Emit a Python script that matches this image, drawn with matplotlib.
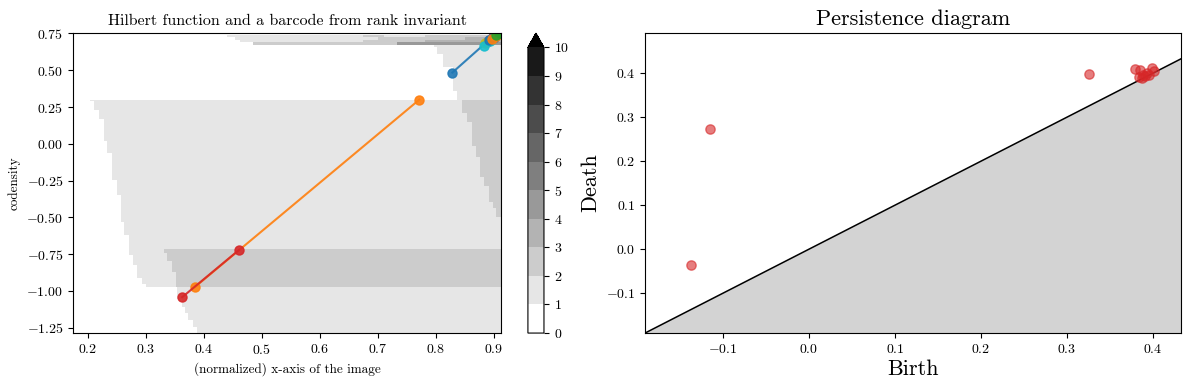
import numpy as np
import matplotlib
matplotlib.use("Agg")
import matplotlib.pyplot as plt
from matplotlib.colors import ListedColormap, BoundaryNorm

# --- fonts: Computer Modern look (cmr10 ships with matplotlib) ---
plt.rcParams['font.family'] = 'serif'
plt.rcParams['font.serif'] = ['cmr10', 'DejaVu Serif']
plt.rcParams['mathtext.fontset'] = 'cm'
plt.rcParams['axes.formatter.use_mathtext'] = True

# --- Hilbert function: staircase regions (step tops, left x of each step, bottom) ---
X_LIM = (0.1746, 0.913)
Y_LIM = (-1.286, 0.757)

main_tops = [0.30, 0.29, 0.23, 0.165, 0.02, -0.06, -0.245, -0.35, -0.53, -0.62, -0.755, -0.825, -0.91, -0.955]
main_x = [0.204, 0.211, 0.219, 0.227, 0.233, 0.240, 0.249, 0.256, 0.262, 0.271, 0.277, 0.284, 0.292, 0.300]
main_bottom = -0.975

low_tops = [-0.975, -1.06, -1.11, -1.15, -1.20, -1.25]
low_x = [0.353, 0.362, 0.368, 0.373, 0.381, 0.388]
low_bottom = -1.29

band_tops = [-0.718, -0.742, -0.80, -0.87]
band_x = [0.330, 0.337, 0.345, 0.352]
band_bottom = -0.975

right_tops = [0.30, 0.21, 0.144, -0.013, -0.088, -0.224, -0.29, -0.40, -0.44]
right_x = [0.845, 0.853, 0.862, 0.869, 0.876, 0.883, 0.891, 0.897, 0.903]
right_bottom = -0.50

upper_tops = [0.675, 0.66, 0.61, 0.52, 0.36]
upper_x = [0.796, 0.802, 0.813, 0.828, 0.836]
upper_bottom = 0.30

# top band rows: row edges and (x start, value) pieces per row
top_edges = [0.675, 0.692, 0.708, 0.725, 0.742]
top_rows = [
    [(0.485, 2), (0.733, 4)],
    [(0.463, 1), (0.675, 2), (0.78, 3)],
    [(0.454, 1), (0.70, 2), (0.85, 3)],
    [(0.44, 1), (0.675, 2), (0.71, 1), (0.78, 2)],
]

# --- barcode (birth point -> death point), colours follow the default cycle ---
bar_x0 = [0.829, 0.385, 0.900, 0.363, 0.888, 0.890, 0.892, 0.893, 0.886, 0.884, 0.893, 0.897, 0.904]
bar_y0 = [0.484, -0.973, 0.728, -1.042, 0.690, 0.700, 0.703, 0.706, 0.686, 0.668, 0.705, 0.710, 0.737]
bar_x1 = [0.897, 0.772, 0.906, 0.461, 0.896, 0.898, 0.899, 0.900, 0.895, 0.894, 0.900, 0.905, 0.911]
bar_y1 = [0.722, 0.300, 0.745, -0.721, 0.712, 0.716, 0.720, 0.722, 0.708, 0.700, 0.724, 0.730, 0.752]

# --- persistence diagram points ---
births = [-0.137, -0.115, 0.326, 0.379, 0.385, 0.399, 0.388, 0.393, 0.387, 0.384, 0.391, 0.396, 0.401]
deaths = [-0.036, 0.274, 0.398, 0.409, 0.407, 0.411, 0.396, 0.400, 0.389, 0.392, 0.393, 0.397, 0.405]


def stair(xc, yc, tops, xs, bottom):
    m = np.zeros_like(xc, dtype=bool)
    for i, (t, x0) in enumerate(zip(tops, xs)):
        b = tops[i + 1] if i + 1 < len(tops) else bottom
        m |= (yc <= t) & (yc > b) & (xc >= x0)
    return m


xs = np.linspace(X_LIM[0], X_LIM[1], 600)
ys = np.linspace(Y_LIM[0], Y_LIM[1], 700)
XC, YC = np.meshgrid(xs, ys)
Z = np.zeros_like(XC)
Z += stair(XC, YC, main_tops, main_x, main_bottom)
Z += stair(XC, YC, low_tops, low_x, low_bottom)
Z += stair(XC, YC, band_tops, band_x, band_bottom)
Z += stair(XC, YC, right_tops, right_x, right_bottom)
Z += stair(XC, YC, upper_tops, upper_x, upper_bottom)
for i, pieces in enumerate(top_rows):
    inrow = (YC > top_edges[i]) & (YC <= top_edges[i + 1])
    for x0, v in pieces:
        Z[inrow & (XC >= x0)] = v

gray_r = plt.get_cmap('gray_r')
cmap = ListedColormap([gray_r(i / 10) for i in range(10)])
cmap.set_over('black')
norm = BoundaryNorm(np.arange(11), cmap.N, extend='neither')

fig = plt.figure(figsize=(11.89, 3.9), dpi=100)
ax1 = fig.add_axes([0.0614, 0.146, 0.360, 0.769])
cax = fig.add_axes([0.444, 0.146, 0.0135, 0.769])
ax2 = fig.add_axes([0.5425, 0.146, 0.4508, 0.769])

im = ax1.imshow(Z, extent=[X_LIM[0], X_LIM[1], Y_LIM[0], Y_LIM[1]], origin='lower',
                aspect='auto', cmap=cmap, norm=norm, interpolation='nearest')
for k in range(len(bar_x0)):
    ax1.plot([bar_x0[k], bar_x1[k]], [bar_y0[k], bar_y1[k]], 'o-', color=f'C{k % 10}',
             markersize=6.5, linewidth=1.5, alpha=0.9)
ax1.set_xlim(*X_LIM)
ax1.set_ylim(Y_LIM[0], 0.752)
ax1.set_xticks(np.arange(0.2, 0.95, 0.1))
ax1.set_yticks(np.arange(-1.25, 0.8, 0.25))
ax1.set_title("Hilbert function and a barcode from rank invariant", fontsize=11.5)
ax1.set_xlabel("(normalized) x-axis of the image", fontsize=9.5)
ax1.set_ylabel("codensity", fontsize=9.5)

cb = fig.colorbar(im, cax=cax, extend='max')
cb.set_ticks(range(11))

# persistence diagram
lo, hi = -0.1907, 0.4327
ax2.fill_between([lo, hi], [lo, lo], [lo, hi], color='lightgrey', zorder=0)
ax2.plot([lo, hi], [lo, hi], color='black', linewidth=1.1)
ax2.scatter(births, deaths, color='C3', alpha=0.6, s=45, zorder=3)
ax2.set_xlim(lo, hi)
ax2.set_ylim(lo, 0.491)
ax2.set_title("Persistence diagram", fontsize=16)
ax2.set_xlabel("Birth", fontsize=16, labelpad=3)
ax2.set_ylabel("Death", fontsize=16)

fig.savefig("out.png", dpi=100)
